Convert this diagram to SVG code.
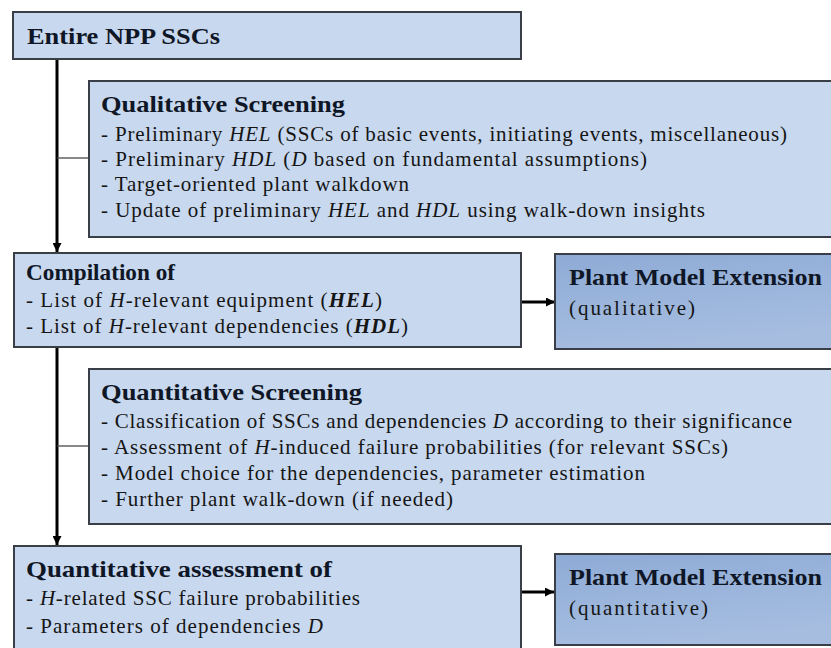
<svg xmlns="http://www.w3.org/2000/svg" width="831" height="648" viewBox="0 0 831 648" font-family="'Liberation Serif', 'Times New Roman', Times, serif">
<defs>
<style>
.box{fill:#c8d8ee;stroke:#3a3f47;stroke-width:2}
.dark{fill:url(#g);stroke:#3a3f47;stroke-width:2}
text{font-family:'Liberation Serif','Times New Roman',Times,serif;fill:#151515}
.t{font-size:21px}
.b{font-weight:bold;font-size:24px;fill:#0f1626}
.i{font-style:italic}
.bi{font-style:italic;font-weight:bold}
.main{stroke:#000;stroke-width:3;fill:none}
.thin{stroke:#4a4a4a;stroke-width:1.3;fill:none}
</style>
<linearGradient id="g" x1="0" y1="0" x2="0.3" y2="1">
<stop offset="0" stop-color="#8eabd6"/>
<stop offset="1" stop-color="#a6bde0"/>
</linearGradient>
<marker id="ah" markerWidth="3" markerHeight="3" refX="3" refY="1.5" orient="auto" markerUnits="strokeWidth">
<path d="M0,0 L3,1.5 L0,3 Z" fill="#000"/>
</marker>
</defs>

<g id="connectors">
<line class="main" x1="57" y1="59" x2="57" y2="252" marker-end="url(#ah)"/>
<line class="thin" x1="57" y1="158" x2="89" y2="158"/>
<line class="main" x1="57" y1="347" x2="57" y2="545" marker-end="url(#ah)"/>
<line class="thin" x1="57" y1="446" x2="89" y2="446"/>
<line class="main" x1="521" y1="302" x2="555" y2="302" marker-end="url(#ah)"/>
<line class="main" x1="521" y1="592" x2="554" y2="592" marker-end="url(#ah)"/>
</g>

<g id="node-entire">
<rect class="box" x="13" y="12" width="508" height="47"/>
<text class="b" x="27" y="44" textLength="193" lengthAdjust="spacingAndGlyphs">Entire NPP SSCs</text>
</g>

<g id="node-qualitative-screening">
<rect class="box" x="89" y="81" width="760" height="156"/>
<text class="b" x="101" y="112" textLength="244" lengthAdjust="spacingAndGlyphs">Qualitative Screening</text>
<text class="t" x="101" y="141" textLength="686" lengthAdjust="spacing">- Preliminary <tspan class="i">HEL</tspan> (SSCs of basic events, initiating events, miscellaneous)</text>
<text class="t" x="101" y="166" textLength="546" lengthAdjust="spacing">- Preliminary <tspan class="i">HDL</tspan> (<tspan class="i">D</tspan> based on fundamental assumptions)</text>
<text class="t" x="101" y="191" textLength="308" lengthAdjust="spacing">- Target-oriented plant walkdown</text>
<text class="t" x="101" y="217" textLength="604" lengthAdjust="spacing">- Update of preliminary <tspan class="i">HEL</tspan> and <tspan class="i">HDL</tspan> using walk-down insights</text>
</g>

<g id="node-compilation">
<rect class="box" x="14" y="253" width="507" height="94"/>
<text class="b" x="26" y="280" style="font-size:23px" textLength="149" lengthAdjust="spacingAndGlyphs">Compilation of</text>
<text class="t" x="26" y="307" textLength="356" lengthAdjust="spacing">- List of <tspan class="i">H</tspan>-relevant equipment (<tspan class="bi">HEL</tspan>)</text>
<text class="t" x="26" y="333" textLength="382" lengthAdjust="spacing">- List of <tspan class="i">H</tspan>-relevant dependencies (<tspan class="bi">HDL</tspan>)</text>
</g>

<g id="node-pme-qualitative">
<rect class="dark" x="555" y="254" width="290" height="95"/>
<text class="b" x="569" y="285" textLength="253" lengthAdjust="spacingAndGlyphs">Plant Model Extension</text>
<text class="t" x="569" y="315" textLength="126" lengthAdjust="spacing">(qualitative)</text>
</g>

<g id="node-quantitative-screening">
<rect class="box" x="89" y="369" width="760" height="155"/>
<text class="b" x="101" y="400" textLength="261" lengthAdjust="spacingAndGlyphs">Quantitative Screening</text>
<text class="t" x="101" y="428" textLength="691" lengthAdjust="spacing">- Classification of SSCs and dependencies <tspan class="i">D</tspan> according to their significance</text>
<text class="t" x="101" y="454" textLength="627" lengthAdjust="spacing">- Assessment of <tspan class="i">H</tspan>-induced failure probabilities (for relevant SSCs)</text>
<text class="t" x="101" y="480" textLength="544" lengthAdjust="spacing">- Model choice for the dependencies, parameter estimation</text>
<text class="t" x="101" y="506" textLength="352" lengthAdjust="spacing">- Further plant walk-down (if needed)</text>
</g>

<g id="node-quantitative-assessment">
<rect class="box" x="14" y="546" width="507" height="110"/>
<text class="b" x="26" y="577" textLength="306" lengthAdjust="spacingAndGlyphs">Quantitative assessment of</text>
<text class="t" x="26" y="605" textLength="334" lengthAdjust="spacing">- <tspan class="i">H</tspan>-related SSC failure probabilities</text>
<text class="t" x="26" y="633" textLength="297" lengthAdjust="spacing">- Parameters of dependencies <tspan class="i">D</tspan></text>
</g>

<g id="node-pme-quantitative">
<rect class="dark" x="555" y="554" width="290" height="91"/>
<text class="b" x="569" y="585" textLength="253" lengthAdjust="spacingAndGlyphs">Plant Model Extension</text>
<text class="t" x="569" y="615" textLength="139" lengthAdjust="spacing">(quantitative)</text>
</g>
</svg>
